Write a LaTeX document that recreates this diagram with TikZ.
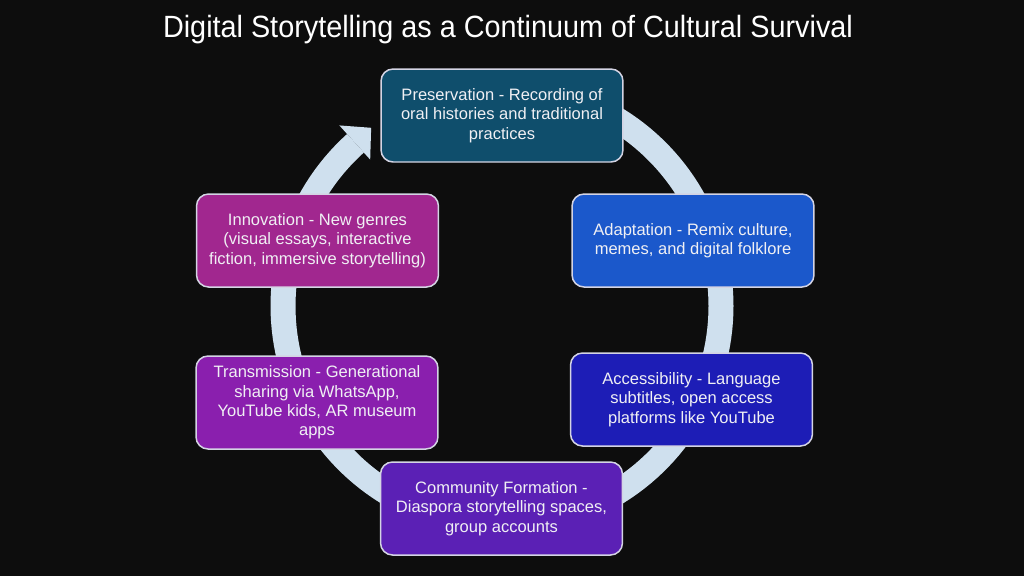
\documentclass[tikz,border=0pt]{standalone}
\usepackage{fontspec}
\usepackage{graphicx}
\setmainfont{Liberation Sans}
\definecolor{bg}{HTML}{0D0D0D}
\definecolor{ringc}{HTML}{CFE0EE}
\definecolor{edgec}{HTML}{D4D4E4}
\definecolor{txt}{HTML}{F0F0F4}
\definecolor{cpres}{HTML}{0F4E6C}
\definecolor{cadapt}{HTML}{1B58CB}
\definecolor{caccess}{HTML}{1D1DB6}
\definecolor{ccomm}{HTML}{5B20B5}
\definecolor{ctrans}{HTML}{8A1FAE}
\definecolor{cinnov}{HTML}{A1278F}
\tikzset{
  stagebox/.style={draw=edgec, line width=0.03cm, rounded corners=0.24cm,
    minimum width=4.84cm, minimum height=1.86cm, inner sep=2pt,
    align=center, text=txt, font=\fontsize{9.4}{11}\selectfont},
  titletext/.style={text=white, inner sep=0pt, anchor=base}
}
\begin{document}
\begin{tikzpicture}[x=0.02cm, y=-0.02cm]
\useasboundingbox (0,0) rectangle (1024,576);
\fill[bg] (0,0) rectangle (1024,576);
% title
\node[titletext] (title) at (508,37) {\resizebox{13.8cm}{\height}{\fontsize{17.5}{20}\selectfont Digital Storytelling as a Continuum of Cultural Survival}};
% circular arrow
\fill[ringc] plot[domain=-70:228, samples=150] ({502+231.5*cos(\x)},{306+231.5*sin(\x)})
  -- plot[domain=228:-70, samples=150] ({502+206.5*cos(\x)},{306+206.5*sin(\x)}) -- cycle;
\coordinate (ho) at ({502+243*cos(228)},{306+243*sin(228)});
\coordinate (hi) at ({502+197*cos(228)},{306+197*sin(228)});
\coordinate (ht) at ({502+220*cos(228)+22*(-sin(228))},{306+220*sin(228)+22*cos(228)});
\fill[ringc] (ho) -- (ht) -- (hi) -- cycle;
% boxes
\node[stagebox, fill=cpres] (pres) at (502,115.5) {Preservation - Recording of\\oral histories and traditional\\practices};
\node[stagebox, fill=cadapt] (adapt) at (693,240.5) {Adaptation - Remix culture,\\memes, and digital folklore};
\node[stagebox, fill=caccess] (access) at (691.5,399.5) {Accessibility - Language\\subtitles, open access\\platforms like YouTube};
\node[stagebox, fill=ccomm] (comm) at (501.5,508.5) {Community Formation -\\Diaspora storytelling spaces,\\group accounts};
\node[stagebox, fill=ctrans] (trans) at (317,402.5) {Transmission - Generational\\sharing via WhatsApp,\\YouTube kids, AR museum\\apps};
\node[stagebox, fill=cinnov] (innov) at (317.5,240.5) {Innovation - New genres\\(visual essays, interactive\\fiction, immersive storytelling)};
\end{tikzpicture}
\end{document}
